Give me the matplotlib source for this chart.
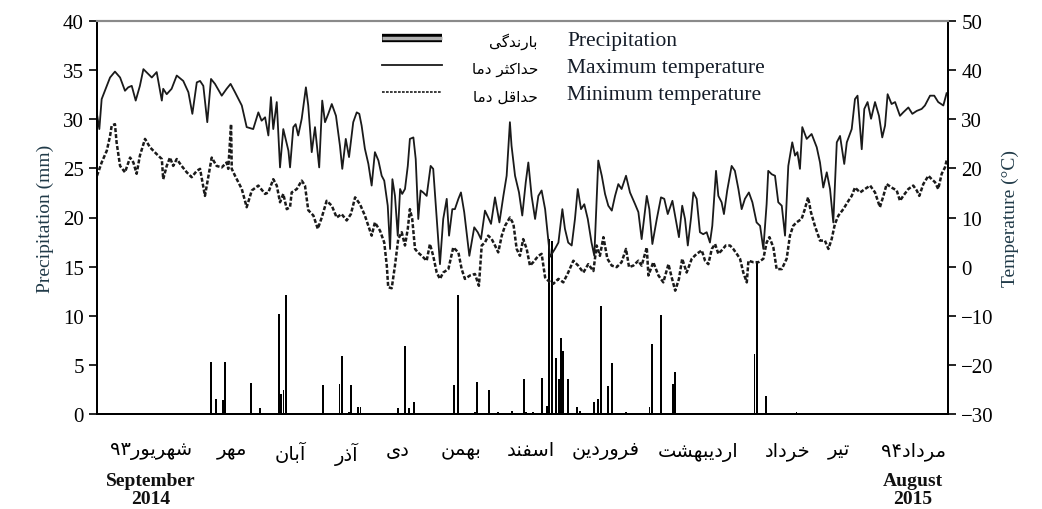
"""Daily precipitation and temperature, Sept 2014 - Aug 2015."""

import re

import matplotlib

matplotlib.use("Agg")
from matplotlib import pyplot as plt
from matplotlib.legend_handler import HandlerTuple
from matplotlib.lines import Line2D
from matplotlib.transforms import blended_transform_factory

plt.rcParams["font.family"] = ["Liberation Serif", "DejaVu Sans"]

# day 0 = start of September 2014, day 365 = end of August 2015
tmax_day = [
    0, 1, 2.0, 5.6, 7.7, 9.9, 12.0, 13.4, 14.9, 16.6, 18.4, 19.9, 22.0, 23.5, 25.6,
    27.8, 28.4, 29.9, 32.0, 34.2, 37.0, 39.2, 40.9, 42.8, 44.2, 45.6, 47.3, 48.9,
    50.6, 53.5, 55.6, 57.3, 59.2, 62.1, 64.2, 67.0, 69.2, 70.6, 72.1, 73.5, 74.6,
    75.6, 77.1, 78.5, 79.9, 80.9, 82.1, 82.8, 84.2, 85.2, 86.3, 87.8, 88.9, 89.6,
    90.6, 92.1, 93.5, 95.3, 96.6, 97.8, 99.2, 100.7, 102.5, 104.2, 105.2, 106.7,
    108.1, 109.9, 111.4, 112.5, 113.5, 114.9, 116.4, 117.8, 119.2, 120.7, 122.1,
    123.2, 124.7, 125.7, 126.7, 127.8, 129.0, 130.0, 130.9, 132.1, 133.3, 134.2,
    135.7, 136.7, 137.8, 138.8, 139.9, 141.4, 143.1, 144.2, 147.1, 148.5, 150.0,
    151.0, 152.4, 153.5, 155.0, 156.1, 157.5, 159.7, 161.8, 163.3, 164.7, 166.4,
    167.8, 169.0, 170.7, 172.6, 174.3, 175.7, 177.1, 177.8, 179.3, 181.0, 182.4,
    183.9, 185.0, 186.4, 187.9, 189.3, 190.7, 192.2, 194.3, 196.4, 197.9, 199.6,
    200.7, 202.1, 203.6, 205.0, 206.2, 207.6, 209.0, 210.5, 212.1, 213.3, 215.0,
    216.5, 217.9, 219.3, 220.8, 222.2, 223.6, 225.0, 226.9, 228.6, 230.8, 232.2,
    233.6, 235.8, 236.9, 238.2, 240.1, 241.9, 243.3, 244.8, 246.8, 248.2, 249.6,
    251.0, 252.2, 253.4, 254.8, 255.8, 257.2, 258.6, 260.0, 261.5, 262.9, 263.9,
    265.5, 266.5, 267.9, 268.9, 270.3, 272.2, 273.6, 275.1, 276.5, 277.9, 279.6,
    281.1, 282.9, 284.4, 285.8, 287.2, 287.9, 289.4, 290.8, 292.2, 293.7, 295.1,
    296.5, 298.2, 299.4, 300.4, 301.5, 302.5, 304.4, 306.5, 308.7, 310.1, 311.5,
    313.0, 314.4, 315.8, 317.3, 318.7, 320.5, 321.6, 323.7, 325.1, 326.2, 328.0,
    329.1, 330.5, 332.0, 333.7, 335.4, 336.8, 338.0, 339.1, 340.8, 342.3, 344.4,
    345.8, 348.0, 349.7, 351.6, 353.7, 355.1, 357.3, 359.1, 360.8, 363.0, 364.4,
]
tmax = [
    31, 28, 34.1, 38.5, 39.7, 38.5, 35.8, 36.5, 36.8, 33.8, 36.8, 40.2, 39.2, 38.5,
    39.6, 33.8, 36.2, 35.1, 36.2, 38.9, 37.8, 35.5, 31.1, 37.5, 37.8, 36.8, 29.4,
    38.2, 37.2, 34.8, 36.2, 37.2, 35.5, 32.8, 28.4, 28.0, 31.4, 29.7, 30.4, 26.7,
    34.5, 28.0, 33.5, 20.2, 28.0, 26.0, 23.6, 20.2, 28.4, 29.0, 26.7, 30.1, 34.1,
    36.5, 32.8, 23.3, 28.4, 20.2, 33.8, 29.4, 31.1, 33.1, 30.7, 24.6, 19.9, 26.0,
    22.3, 29.4, 31.4, 31.1, 28.7, 24.0, 20.9, 16.5, 23.3, 21.6, 18.5, 17.5, 12.4,
    3.6, 17.8, 14.4, 6.3, 15.8, 14.8, 15.8, 20.5, 26.0, 26.3, 21.9, 9.7, 15.5,
    15.1, 14.4, 20.5, 19.9, 0.5, 9.7, 13.8, 6.3, 11.7, 11.7, 13.8, 15.1, 11.1, 2.2,
    8.0, 7.0, 5.6, 11.4, 10.0, 8.7, 14.1, 9.0, 14.4, 18.5, 29.4, 24.6, 18.5, 15.1,
    10.4, 17.2, 21.2, 14.4, 9.7, 14.4, 15.5, 11.7, 2.0, 3.6, 4.9, 11.7, 7.7, 4.9,
    4.3, 9.7, 15.8, 11.7, 12.7, 9.7, 4.9, 2.2, 21.6, 18.5, 14.8, 12.4, 11.4, 14.4,
    16.8, 15.8, 18.5, 15.1, 12.7, 11.1, 5.6, 14.4, 11.7, 4.6, 9.7, 14.1, 13.8, 10.7,
    13.4, 9.7, 6.0, 12.4, 9.7, 4.3, 10.0, 15.1, 13.8, 7.0, 6.6, 7.0, 4.9, 8.3, 19.5,
    14.4, 13.1, 10.7, 15.5, 20.5, 19.5, 15.8, 11.7, 13.8, 15.1, 13.1, 9.0, 8.3, 3.6,
    12.7, 19.5, 18.8, 18.5, 13.1, 12.4, 6.3, 20.5, 25.3, 22.6, 23.3, 19.9, 28.4,
    26.0, 27.0, 24.3, 21.2, 16.1, 19.2, 15.8, 9.0, 25.3, 26.6, 20.9, 25.3, 28.0,
    34.1, 34.8, 23.9, 32.1, 33.5, 30.1, 33.5, 30.7, 26.3, 28.7, 35.1, 33.1, 33.5,
    30.7, 31.4, 32.4, 31.1, 31.7, 32.1, 32.8, 34.8, 34.8, 33.5, 32.8, 35.3,
]

tmin_day = [
    0, 2.0, 4.2, 5.6, 6.3, 7.7, 8.4, 9.9, 12.0, 14.2, 15.6, 17.0, 18.4, 20.6, 22.7,
    25.6, 27.8, 28.4, 29.9, 31.3, 32.7, 34.2, 36.3, 38.5, 40.6, 42.8, 44.2, 46.3,
    49.2, 51.3, 53.5, 55.6, 56.3, 57.5, 57.8, 59.2, 62.1, 64.2, 66.4, 69.2, 72.1,
    73.5, 75.6, 77.1, 78.5, 79.9, 81.4, 82.8, 83.5, 85.7, 87.8, 89.2, 90.6, 92.8,
    94.7, 96.4, 98.5, 100.7, 102.8, 104.9, 107.1, 108.9, 110.7, 112.8, 114.9,
    116.4, 117.8, 119.2, 121.4, 123.2, 124.3, 124.9, 126.4, 127.8, 129.2, 130.7,
    132.1, 133.3, 134.2, 135.2, 136.4, 137.6, 139.3, 141.4, 142.8, 144.2, 145.7,
    147.1, 148.5, 150.7, 152.8, 155.0, 156.4, 157.8, 160.0, 162.1, 163.8, 165.0,
    166.4, 167.8, 169.3, 170.7, 172.1, 173.6, 175.0, 177.1, 178.6, 180.0, 181.4,
    182.8, 184.3, 185.7, 187.1, 189.3, 190.7, 192.2, 193.6, 195.7, 197.9, 200.0,
    202.1, 204.3, 206.4, 208.6, 210.7, 212.9, 214.3, 215.7, 217.2, 218.9, 220.8,
    222.9, 225.0, 226.9, 228.2, 230.0, 232.2, 233.6, 235.8, 236.5, 238.6, 240.8,
    242.9, 245.1, 246.5, 248.0, 249.6, 251.0, 252.9, 255.1, 257.2, 259.4, 260.8,
    262.2, 263.7, 265.1, 266.5, 267.9, 269.7, 271.5, 272.9, 274.4, 275.8, 277.2,
    278.7, 279.4, 281.5, 283.7, 285.8, 287.2, 288.4, 290.1, 291.5, 293.7, 295.8,
    297.2, 298.6, 300.0, 302.2, 303.6, 305.0, 306.2, 307.9, 310.1, 312.2, 313.7,
    315.1, 316.5, 318.0, 320.1, 322.3, 323.7, 325.1, 327.3, 329.4, 331.6, 333.7,
    335.8, 337.3, 338.7, 340.8, 343.0, 344.4, 345.8, 348.0, 350.1, 351.6, 352.7,
    354.4, 356.6, 358.0, 359.4, 360.8, 362.3, 363.7, 364.6,
]
tmin = [
    18.5, 21.2, 23.6, 26.6, 28.7, 29.0, 25.3, 20.5, 19.2, 22.2, 21.2, 18.9, 22.6,
    26.0, 24.3, 22.9, 21.9, 17.8, 20.5, 22.2, 20.5, 21.9, 20.5, 19.2, 18.2, 19.5,
    19.9, 14.4, 22.2, 20.5, 20.2, 21.2, 19.9, 29.0, 19.9, 18.5, 15.8, 12.1, 15.5,
    16.5, 14.8, 15.1, 17.8, 16.5, 13.1, 14.8, 11.7, 12.1, 15.1, 15.8, 17.5, 16.5,
    11.5, 10.4, 7.7, 10.0, 13.4, 12.4, 10.0, 10.7, 9.4, 10.7, 14.1, 12.7, 10.4,
    8.3, 6.3, 9.0, 7.3, 4.9, 0.2, -4.2, -4.4, 0.2, 5.6, 7.0, 4.3, 7.7, 11.7, 9.7,
    3.6, 2.9, 2.2, 1.2, 4.6, 2.2, -1.2, -2.5, -1.2, -0.5, 3.9, 2.9, -0.5, -2.5,
    -1.8, -1.5, -3.9, 4.3, 4.9, 6.3, 5.6, 4.3, 2.9, 6.3, 8.3, 10.0, 8.7, 3.6, 2.2,
    5.6, 3.6, 0.2, 0.9, 2.2, 2.6, -2.2, -2.9, -3.5, -2.5, -3.2, -1.2, 1.2, 0.2,
    -1.2, 0.5, -0.9, 4.3, 2.2, 6.0, 1.6, 0.2, -0.1, 0.9, 3.6, -0.1, 0.2, 1.2, 0.2,
    3.9, -1.8, 0.9, -1.8, -3.2, 0.5, -2.2, -4.9, -2.5, 1.6, -1.2, 1.6, 2.6, 3.3,
    1.2, 0.5, 3.6, 4.6, 2.6, 3.3, 4.3, 4.3, 3.6, 2.6, 1.6, -1.2, -3.2, 1.2, 0.9,
    0.9, 1.6, 4.9, 6.0, 3.9, -0.5, -0.5, 1.6, 6.3, 8.3, 9.0, 9.7, 11.7, 14.1, 11.1,
    8.3, 5.3, 5.3, 3.6, 5.6, 8.7, 10.4, 11.7, 13.4, 14.4, 16.1, 15.1, 15.8, 16.5,
    15.1, 12.1, 14.4, 16.8, 16.1, 15.5, 13.4, 14.4, 15.8, 16.5, 15.5, 14.4, 16.8,
    18.5, 17.8, 17.2, 15.8, 18.9, 20.2, 22.0,
]

rain_day = [
    49, 51, 54, 55, 66, 70, 78, 79, 80, 81, 97, 104, 105, 108, 109, 112, 113, 129,
    132, 134, 136, 153, 155, 162, 163, 168, 172, 178, 183, 184, 187, 191, 193, 194,
    195, 197, 198, 199, 200, 202, 206, 207, 213, 215, 216, 219, 221, 227, 234, 237,
    238, 242, 247, 248, 282, 283, 287, 300,
]
rain = [
    5.3, 1.5, 1.4, 5.3, 3.2, 0.6, 10.2, 2.0, 2.4, 12.1, 3.0, 3.1, 5.9, 0.2, 3.0,
    0.7, 0.7, 0.6, 6.9, 0.6, 1.2, 3.0, 12.1, 0.2, 3.3, 2.4, 0.2, 0.3, 3.6, 0.2,
    0.2, 3.7, 0.8, 17.8, 17.6, 5.7, 3.6, 7.7, 6.4, 3.6, 0.7, 0.3, 1.2, 1.5, 11.0,
    2.8, 5.2, 0.2, 0.1, 0.7, 7.1, 10.1, 3.1, 4.3, 6.1, 15.6, 1.8, 0.2,
]

month_day = [23, 58, 83, 107, 129, 156, 186, 218, 258, 296, 318, 350]
month_fa = [
    "شهریور۹۳", "مهر", "آبان", "آذر", "دی", "بهمن", "اسفند",
    "فروردین", "اردیبهشت", "خرداد", "تیر", "مرداد۹۴",
]
# Gregorian month written under the first and last Persian month
month_en = {0: "September\n2014", 11: "August\n2015"}

legend_en = ["Precipitation", "Maximum temperature", "Minimum temperature"]
legend_fa = ["بارندگی", "حداکثر دما", "حداقل دما"]

# Arabic presentation forms: isolated, final, initial, medial
FORMS = {
    "ا": ("\ufe8d", "\ufe8e", None, None),
    "آ": ("\ufe81", "\ufe82", None, None),
    "د": ("\ufea9", "\ufeaa", None, None),
    "ذ": ("\ufeab", "\ufeac", None, None),
    "ر": ("\ufead", "\ufeae", None, None),
    "و": ("\ufeed", "\ufeee", None, None),
    "ب": ("\ufe8f", "\ufe90", "\ufe91", "\ufe92"),
    "ت": ("\ufe95", "\ufe96", "\ufe97", "\ufe98"),
    "ث": ("\ufe99", "\ufe9a", "\ufe9b", "\ufe9c"),
    "ح": ("\ufea1", "\ufea2", "\ufea3", "\ufea4"),
    "خ": ("\ufea5", "\ufea6", "\ufea7", "\ufea8"),
    "س": ("\ufeb1", "\ufeb2", "\ufeb3", "\ufeb4"),
    "ش": ("\ufeb5", "\ufeb6", "\ufeb7", "\ufeb8"),
    "ف": ("\ufed1", "\ufed2", "\ufed3", "\ufed4"),
    "ق": ("\ufed5", "\ufed6", "\ufed7", "\ufed8"),
    "ل": ("\ufedd", "\ufede", "\ufedf", "\ufee0"),
    "م": ("\ufee1", "\ufee2", "\ufee3", "\ufee4"),
    "ن": ("\ufee5", "\ufee6", "\ufee7", "\ufee8"),
    "ه": ("\ufee9", "\ufeea", "\ufeeb", "\ufeec"),
    "ک": ("\ufb8e", "\ufb8f", "\ufb90", "\ufb91"),
    "گ": ("\ufb92", "\ufb93", "\ufb94", "\ufb95"),
    "ی": ("\ufbfc", "\ufbfd", "\ufbfe", "\ufbff"),
}


def farsi(s: str) -> str:
    """Shape Persian letters and put them in visual (left to right) order."""
    out = []
    for i, ch in enumerate(s):
        if ch not in FORMS:
            out.append(ch)
            continue
        prev = s[i - 1] if i > 0 else ""
        nxt = s[i + 1] if i + 1 < len(s) else ""
        join_prev = prev in FORMS and FORMS[prev][2] is not None
        join_next = FORMS[ch][2] is not None and nxt in FORMS
        iso, fin, ini, med = FORMS[ch]
        if join_prev and join_next:
            out.append(med)
        elif join_prev:
            out.append(fin)
        elif join_next:
            out.append(ini)
        else:
            out.append(iso)
    runs = re.findall(r"[۰-۹]+|[^۰-۹]+", "".join(out))
    return "".join(r if r[0] in "۰۱۲۳۴۵۶۷۸۹" else r[::-1] for r in reversed(runs))


W, H = 1042, 510
fig = plt.figure(figsize=(W / 100, H / 100), dpi=100)
ax = fig.add_axes([97 / W, 1 - 415 / H, 851 / W, 393 / H])
ax2 = ax.twinx()

ax.bar(rain_day, rain, width=0.8, color="black", linewidth=0)
ax2.plot(tmax_day, tmax, color="#1a1a1a", lw=1.3)
ax2.plot(tmin_day, tmin, color="#1a1a1a", lw=1.8, linestyle=(0, (1.6, 0.8)))

ax.set_xlim(0, 365)
ax.set_ylim(0, 40)
ax.set_yticks(range(0, 41, 5))
ax2.set_ylim(-30, 50)
ax2.set_yticks(range(-30, 51, 10))

ax.set_xticks(month_day)
ax.set_xticklabels([farsi(m) for m in month_fa], fontsize=14)
ax.tick_params(axis="x", length=0, pad=20)
ax.tick_params(axis="y", direction="out", length=6, width=1.2, labelsize=15)
ax2.tick_params(axis="y", direction="out", length=6, width=1.2, labelsize=15)

trans = blended_transform_factory(ax.transData, ax.transAxes)
for i, txt in month_en.items():
    ax.text(month_day[i], -0.192, txt, transform=trans, ha="center", va="center",
            fontsize=14, fontweight="bold", linespacing=1.08, color="#111111")

for a in (ax, ax2):
    for side in ("left", "right", "bottom"):
        a.spines[side].set_linewidth(1.4)
    a.spines["top"].set_color("#8a8a8a")
    a.spines["top"].set_linewidth(1.5)

ax.set_ylabel("Precipitation (mm)", fontsize=14, color="#203a48", labelpad=6)
ax2.set_ylabel("Temperature (°C)", fontsize=14, color="#203a48", labelpad=6)

handles = [
    (Line2D([], [], color="black", lw=6, solid_capstyle="butt"),
     Line2D([], [], color="#b0b0b0", lw=2.5, solid_capstyle="butt")),
    Line2D([], [], color="#1a1a1a", lw=1.3),
    Line2D([], [], color="#1a1a1a", lw=1.2, linestyle=(0, (1.6, 0.8))),
]
leg = ax2.legend(
    handles, legend_en, loc="upper left",
    bbox_to_anchor=((382 - 97) / 851, (415 - 31) / 393),
    frameon=False, fontsize=15.5, borderpad=0, borderaxespad=0,
    handlelength=2.8, handletextpad=5.8, labelspacing=0.33,
    handler_map={tuple: HandlerTuple(ndivide=1, pad=0)},
)
for t in leg.get_texts():
    t.set_color("#141c28")

for i, txt in enumerate(legend_fa):
    fig.text(538 / W, 1 - (42 + 27.5 * i) / H, farsi(txt), ha="right", va="center",
             fontsize=11, family="DejaVu Sans")

fig.savefig("out.png", dpi=100)
